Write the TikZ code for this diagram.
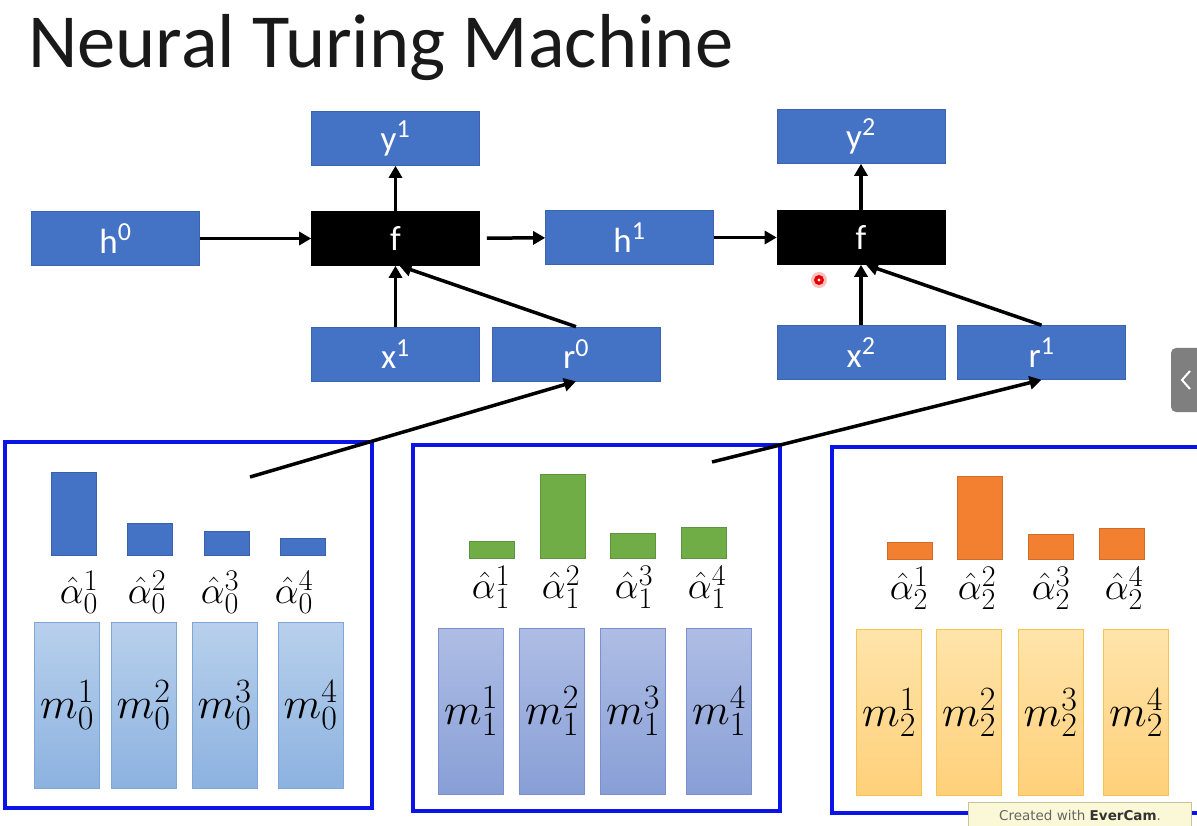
\RequirePackage{fix-cm}
\documentclass[tikz,border=0pt]{standalone}
\usepackage[no-math]{fontspec}
\setmainfont{Carlito}
\newfontfamily\wmfont{DejaVu Sans}
\usetikzlibrary{arrows.meta}
\DeclareMathSizes{35}{35}{26}{20}
\DeclareMathSizes{38}{38}{30}{24}
\DeclareMathSizes{44}{44}{34}{27}
\definecolor{boxblue}{HTML}{4472C4}
\definecolor{boxline}{HTML}{3A64B0}
\definecolor{frameblue}{HTML}{0A14E6}
\definecolor{barA}{HTML}{4472C4}
\definecolor{barB}{HTML}{70AD47}
\definecolor{barC}{HTML}{F28030}
\definecolor{cellAtop}{HTML}{B8D0EC}
\definecolor{cellAbot}{HTML}{8CB2E0}
\definecolor{cellAline}{HTML}{7FA6D6}
\definecolor{cellBtop}{HTML}{AEBDE5}
\definecolor{cellBbot}{HTML}{889FD6}
\definecolor{cellBline}{HTML}{7A8FCB}
\definecolor{cellCtop}{HTML}{FFE4AA}
\definecolor{cellCbot}{HTML}{FFD07A}
\definecolor{cellCline}{HTML}{F8C250}
\definecolor{wmfill}{HTML}{FAF8D6}
\definecolor{wmline}{HTML}{C8C49A}
\definecolor{tabgray}{HTML}{7F7F7F}
\tikzset{
  nbox/.style={fill=boxblue,draw=boxline,line width=0.6pt,minimum width=168pt,minimum height=54pt,inner sep=0pt,text=white,font=\fontsize{35}{36}\selectfont},
  fcell/.style={nbox,fill=black,draw=black},
  flow/.style={-{Triangle[length=12pt,width=13pt]},line width=3.5pt},
  memfr/.style={draw=frameblue,line width=4pt,minimum width=367pt,minimum height=366pt,inner sep=0pt},
  bar/.style={fill=bar#1,draw=bar#1!85!black,line width=0.5pt,minimum width=45pt,inner sep=0pt,anchor=south},
  mcell/.style={top color=cell#1top,bottom color=cell#1bot,draw=cell#1line,line width=0.8pt,minimum width=65pt,minimum height=166pt,inner sep=0pt,font=\fontsize{44}{44}\selectfont},
  alab/.style={inner sep=0pt,font=\fontsize{38}{38}\selectfont},
}
\begin{document}
\begin{tikzpicture}[x=1pt,y=-1pt]
\useasboundingbox[fill=white] (0,0) rectangle (1197,826);
\node[anchor=base west,inner sep=0pt,text=black!90,font=\fontsize{76.5}{77}\selectfont] (title) at (28,68) {Neural Turing Machine};
% controller, step 1
\node[nbox] (h0) at (115.5,238.5) {h\textsuperscript{0}};
\node[fcell] (f1) at (395.5,238.5) {f};
\node[nbox] (y1) at (395.5,138.5) {y\textsuperscript{1}};
\node[nbox] (x1) at (395.5,354) {x\textsuperscript{1}};
\node[nbox] (r0) at (576,354) {r\textsuperscript{0}};
% controller, step 2
\node[nbox] (h1) at (629.5,237.5) {h\textsuperscript{1}};
\node[fcell] (f2) at (861,237.5) {f};
\node[nbox] (y2) at (861,136.5) {y\textsuperscript{2}};
\node[nbox] (x2) at (861,352.5) {x\textsuperscript{2}};
\node[nbox] (r1) at (1041.5,352.5) {r\textsuperscript{1}};
\draw[flow] (h0) -- (f1);
\draw[flow,shorten <=7pt] (f1) -- (h1);
\draw[flow] (h1) -- (f2);
\draw[flow] (f1) -- (y1); \draw[flow] (f2) -- (y2);
\draw[flow] (x1) -- (f1); \draw[flow] (x2) -- (f2);
\draw[flow] (r0.north) -- ([xshift=4pt]f1.south);
\draw[flow] (r1.north) -- ([xshift=5pt]f2.south);
% memory blocks
\node[memfr] (mem0) at (188,625) {};
\node[memfr] (mem1) at (596.5,628) {};
\node[memfr] (mem2) at (1015.5,629.5) {};
\foreach \bx/\bh/\mx/\lx [count=\k] in {74/83/67/79,150/32/143.5/147,226.5/24/224.5/220,302.5/17/310.5/294}{
  \node[bar=A,minimum height=\bh] (a0\k) at (\bx,555) {};
  \node[alab] (la0\k) at (\lx,592) {$\hat{\alpha}_0^{\k}$};
  \node[mcell=A] (m0\k) at (\mx,705) {$m_0^{\k}$};
}
\foreach \bx/\bh/\mx/\lx [count=\k] in {491.5/17/471/491,562.5/84/552/561,633/25/633/634,704/31/719/707}{
  \node[bar=B,minimum height=\bh] (a1\k) at (\bx,558) {};
  \node[alab] (la1\k) at (\lx,587) {$\hat{\alpha}_1^{\k}$};
  \node[mcell=B] (m1\k) at (\mx,711) {$m_1^{\k}$};
}
\foreach \bx/\bh/\mx/\lx [count=\k] in {909.5/17/889/909,979.5/83/969/977,1050.5/25/1050.5/1051,1121.5/31/1136/1124}{
  \node[bar=C,minimum height=\bh] (a2\k) at (\bx,559) {};
  \node[alab] (la2\k) at (\lx,588) {$\hat{\alpha}_2^{\k}$};
  \node[mcell=C] (m2\k) at (\mx,712.5) {$m_2^{\k}$};
}
% reads from memory
\coordinate (rd0) at (250,477);
\coordinate (rd1) at (712,462);
\draw[flow] (rd0) -- (r0.south);
\draw[flow] (rd1) -- (r1.south);
% screen overlays
\fill[red!25] (819,280) circle (8);
\fill[red!90!black] (819,280) circle (5);
\fill[white] (819,280) circle (1.6);
\node[fill=tabgray,rounded corners=5pt,minimum width=40pt,minimum height=64pt,inner sep=0pt] (tab) at (1191,380) {};
\draw[white,line width=2pt] (1190,371) -- (1182,380) -- (1190,389);
\node[fill=wmfill,draw=wmline,line width=1pt,minimum width=223pt,minimum height=25pt,inner sep=0pt,text=black!60,font=\wmfont\fontsize{13.5}{14}\selectfont] (wm) at (1080,815) {Created with \textcolor{black!80}{\textbf{EverCam}}.};
\end{tikzpicture}
\end{document}
